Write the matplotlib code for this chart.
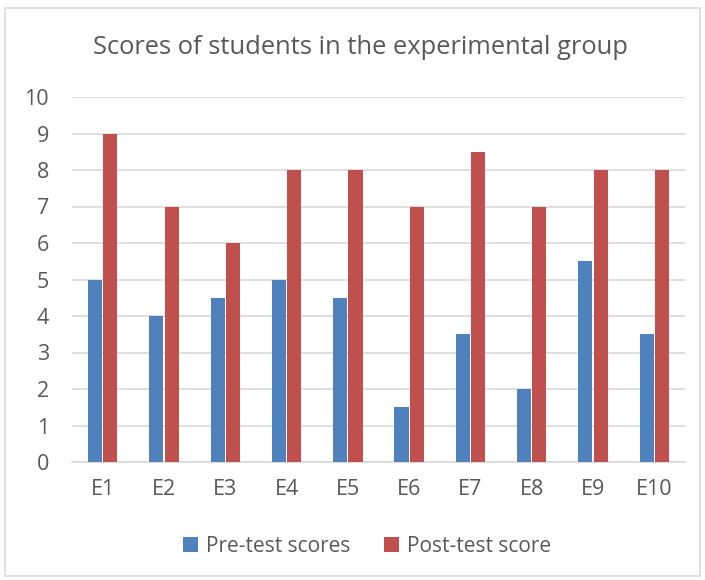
import numpy as np
import matplotlib
matplotlib.use('Agg')
import matplotlib.pyplot as plt
from matplotlib.patches import Rectangle

# datos
students = ['E1', 'E2', 'E3', 'E4', 'E5', 'E6', 'E7', 'E8', 'E9', 'E10']
pre_test = [5, 4, 4.5, 5, 4.5, 1.5, 3.5, 2, 5.5, 3.5]
post_test = [9, 7, 6, 8, 8, 7, 8.5, 7, 8, 8]

plt.rcParams['font.family'] = ['Open Sans', 'DejaVu Sans']
text_color = '#595959'
grid_color = '#D9D9D9'

fig = plt.figure(figsize=(7.05, 5.8), dpi=100)
W, H = 705, 580
# marco del grafico
fig.patches.append(Rectangle((5 / W, 1 - 576 / H), 695 / W, 568 / H, transform=fig.transFigure,
                             fill=False, edgecolor=grid_color, linewidth=1.2))

ax = fig.add_axes([72 / W, 1 - 462 / H, 613 / W, 365 / H])
x = np.arange(len(students))
w = 0.23
ax.bar(x - 0.125, pre_test, w, color='#4F81BD', label='Pre-test scores', zorder=3)
ax.bar(x + 0.125, post_test, w, color='#C0504D', label='Post-test score', zorder=3)

ax.set_xlim(-0.5, len(students) - 0.5)
ax.set_ylim(0, 10)
ax.set_yticks(range(0, 11))
ax.set_xticks(x)
ax.set_xticklabels(students)
ax.tick_params(axis='both', length=0, labelsize=15.5, labelcolor=text_color)
ax.tick_params(axis='x', pad=12)
ax.tick_params(axis='y', pad=16.5)
ax.grid(True, axis='y', color=grid_color, linewidth=1.2, zorder=0)
for side in ['top', 'right', 'left']:
    ax.spines[side].set_visible(False)
ax.spines['bottom'].set_color(grid_color)
ax.spines['bottom'].set_linewidth(1.2)

fig.text(0.512, 1 - 48 / H, 'Scores of students in the experimental group', ha='center', va='center',
         fontsize=18.4, color=text_color)

fig.legend(loc='center', bbox_to_anchor=(0.521, 1 - 546 / H), ncol=2, frameon=False,
           fontsize=15, labelcolor=text_color, handlelength=0.7, handleheight=0.7,
           handletextpad=0.4, columnspacing=1.6)

fig.savefig('out.png', dpi=100)
plt.close(fig)
